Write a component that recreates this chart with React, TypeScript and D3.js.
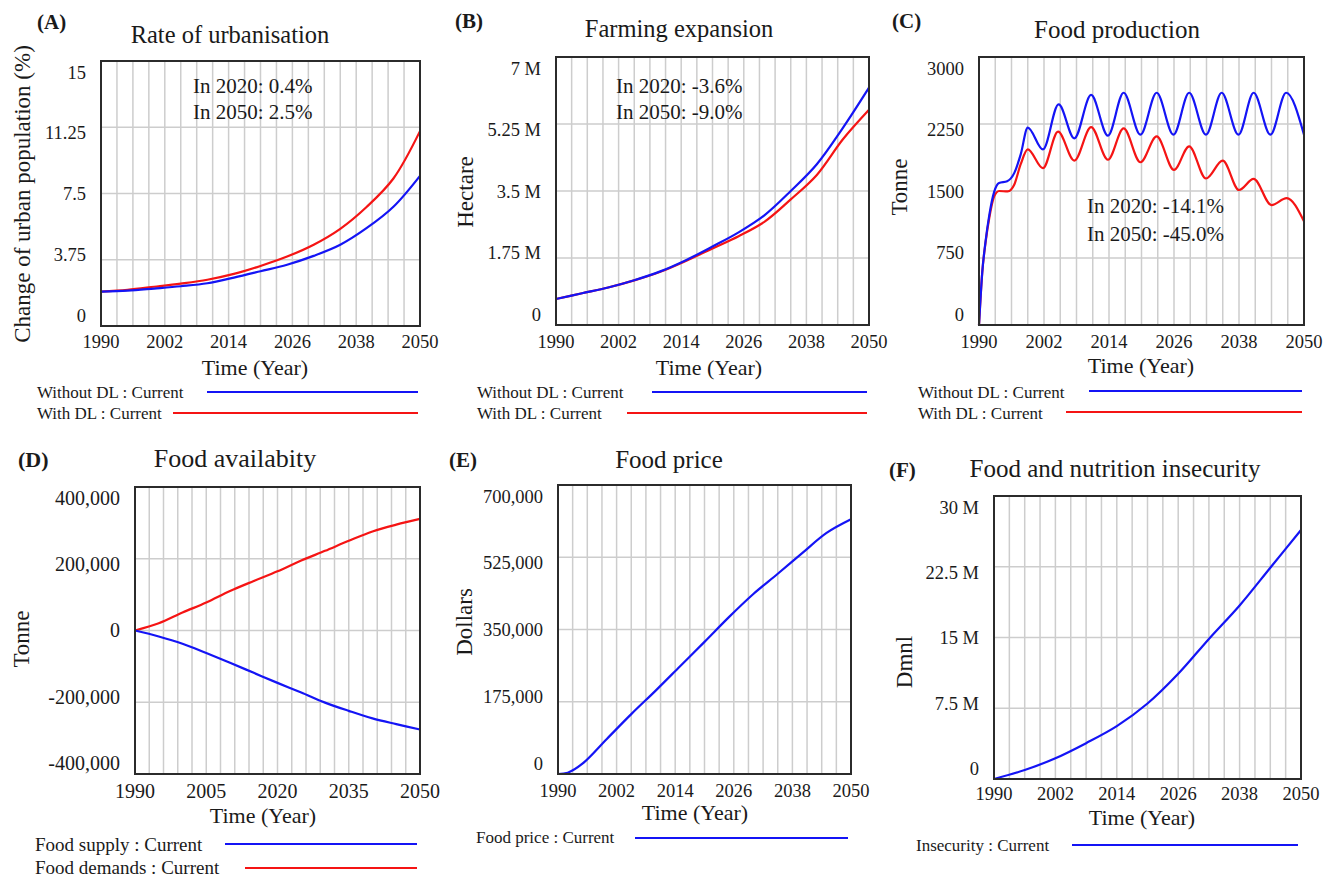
import React, { useEffect, useRef } from 'react';
import * as d3 from 'd3';

const W = 1333;
const H = 877;
const FONT = '"Liberation Serif", "Times New Roman", serif';
const BLUE = '#1414f5';
const RED = '#f51414';

// (A) Rate of urbanisation - change of urban population (%)
const urbanYears = [1990, 1995, 2000, 2005, 2010, 2015, 2020, 2025, 2030, 2035, 2040, 2045, 2050];
const urbanWithoutDL = [1.95, 2.0, 2.12, 2.25, 2.42, 2.74, 3.1, 3.47, 3.97, 4.6, 5.55, 6.75, 8.5];
const urbanWithDL = [1.95, 2.05, 2.22, 2.4, 2.62, 2.95, 3.4, 3.93, 4.6, 5.5, 6.75, 8.35, 11.03];
const urbanTicks = [0, 3.75, 7.5, 11.25, 15];
const urbanTickLabels = ['0', '3.75', '7.5', '11.25', '15'];

// (B) Farming expansion - hectare
const farmYears = [1990, 1995, 2000, 2005, 2010, 2015, 2020, 2025, 2030, 2035, 2040, 2045, 2050];
const farmWithoutDL = [680000, 830000, 980000, 1170000, 1400000, 1700000, 2050000, 2420000, 2870000, 3500000, 4200000, 5150000, 6200000];
const farmWithDL = [680000, 830000, 980000, 1165000, 1390000, 1680000, 2000000, 2320000, 2700000, 3280000, 3920000, 4850000, 5620000];
const farmTicks = [0, 1750000, 3500000, 5250000, 7000000];
const farmTickLabels = ['0', '1.75 M', '3.5 M', '5.25 M', '7 M'];

// (C) Food production - tonne (peaks and troughs)
const prodYearsWithout = [1990, 1990.6, 1991.2, 1991.9, 1992.8, 1993.7, 1995.2, 1996.5, 1997.7, 1999, 2001.8, 2004.7, 2007.6, 2010.7, 2013.8, 2016.7, 2019.8, 2022.8, 2025.9, 2028.8, 2031.9, 2034.8, 2037.9, 2040.7, 2043.8, 2046.7, 2050];
const prodWithoutDL = [0, 590, 930, 1230, 1490, 1590, 1610, 1700, 1910, 2210, 1965, 2470, 2090, 2575, 2120, 2600, 2130, 2600, 2130, 2600, 2130, 2600, 2130, 2600, 2130, 2600, 2130];
const prodYearsWith = [1990, 1990.6, 1991.2, 1991.9, 1992.8, 1993.7, 1995.3, 1996.5, 1997.7, 1999, 2001.8, 2004.6, 2007.6, 2010.7, 2013.8, 2016.7, 2019.8, 2022.8, 2026, 2028.8, 2031.9, 2035, 2038, 2040.7, 2044, 2046.8, 2050];
const prodWithDL = [0, 590, 920, 1200, 1440, 1500, 1495, 1570, 1800, 1965, 1755, 2165, 1840, 2215, 1850, 2200, 1822, 2111, 1736, 2000, 1640, 1840, 1511, 1635, 1342, 1420, 1160];
const prodTicks = [0, 750, 1500, 2250, 3000];
const prodTickLabels = ['0', '750', '1500', '2250', '3000'];

// (D) Food availability - tonne
const availYears = [1990, 1995, 2000, 2005, 2010, 2015, 2020, 2025, 2030, 2035, 2040, 2045, 2050];
const foodSupply = [0, -16600, -37000, -63000, -90000, -118000, -146000, -173000, -201000, -224000, -245000, -261000, -276000];
const foodDemands = [0, 20000, 50000, 78000, 110000, 138000, 165000, 195000, 222000, 250000, 276000, 295000, 311000];
const availTicks = [-400000, -200000, 0, 200000, 400000];
const availTickLabels = ['-400,000', '-200,000', '0', '200,000', '400,000'];

// (E) Food price - dollars
const priceYears = [1990, 1992, 1995, 2000, 2005, 2010, 2015, 2020, 2025, 2030, 2035, 2040, 2045, 2050];
const foodPrice = [0, 3000, 25000, 85000, 145000, 202000, 261000, 320000, 380000, 436000, 485000, 535000, 584000, 617000];
const priceTicks = [0, 175000, 350000, 525000, 700000];
const priceTickLabels = ['0', '175,000', '350,000', '525,000', '700,000'];

// (F) Food and nutrition insecurity - Dmnl
const insecYears = [1990, 1996, 2002, 2008, 2014, 2020, 2026, 2032, 2038, 2044, 2050];
const insecurity = [0, 950000, 2200000, 3800000, 5600000, 8000000, 11150000, 14850000, 18400000, 22400000, 26400000];
const insecTicks = [0, 7500000, 15000000, 22500000, 30000000];
const insecTickLabels = ['0', '7.5 M', '15 M', '22.5 M', '30 M'];

const yearTicks = [1990, 2002, 2014, 2026, 2038, 2050];
const yearTicksD = [1990, 2005, 2020, 2035, 2050];

const smooth = d3.curveCatmullRom.alpha(0.5);

const panels = [
  {
    letter: '(A)', letterPos: [37, 29], title: 'Rate of urbanisation', titlePos: [230, 43],
    plot: [101, 61, 420, 326], yTicks: urbanTicks, yLabels: urbanTickLabels, xTicks: yearTicks,
    yTitle: 'Change of urban population (%)', yTitlePos: [30, 194], xTitlePos: [255, 375], xTickY: 348,
    fs: { letter: 21, title: 24.5, axis: 23, tick: 18.5, legend: 17 },
    notes: { x: 193, y: [93, 119], lines: ['In 2020: 0.4%', 'In 2050: 2.5%'] },
    curve: smooth,
    series: [
      { years: urbanYears, values: urbanWithDL, color: RED },
      { years: urbanYears, values: urbanWithoutDL, color: BLUE },
    ],
    legend: [
      { label: 'Without DL : Current', color: BLUE, tx: 37, ty: 398, lx: [207, 418], ly: 392 },
      { label: 'With DL : Current', color: RED, tx: 37, ty: 419, lx: [173, 418], ly: 413 },
    ],
  },
  {
    letter: '(B)', letterPos: [455, 28], title: 'Farming expansion', titlePos: [679, 37],
    plot: [556, 57, 869, 325], yTicks: farmTicks, yLabels: farmTickLabels, xTicks: yearTicks,
    yTitle: 'Hectare', yTitlePos: [473, 192], xTitlePos: [709, 375], xTickY: 348,
    fs: { letter: 21, title: 24.5, axis: 23, tick: 18.5, legend: 17 },
    notes: { x: 616, y: [93, 119], lines: ['In 2020: -3.6%', 'In 2050: -9.0%'] },
    curve: smooth,
    series: [
      { years: farmYears, values: farmWithDL, color: RED },
      { years: farmYears, values: farmWithoutDL, color: BLUE },
    ],
    legend: [
      { label: 'Without DL : Current', color: BLUE, tx: 477, ty: 398, lx: [652, 867], ly: 392 },
      { label: 'With DL : Current', color: RED, tx: 477, ty: 419, lx: [627, 867], ly: 413 },
    ],
  },
  {
    letter: '(C)', letterPos: [892, 28], title: 'Food production', titlePos: [1117, 38],
    plot: [979, 57, 1304, 325], yTicks: prodTicks, yLabels: prodTickLabels, xTicks: yearTicks,
    yTitle: 'Tonne', yTitlePos: [907, 187], xTitlePos: [1141, 373], xTickY: 348,
    fs: { letter: 21, title: 25, axis: 23, tick: 18.5, legend: 17 },
    notes: { x: 1087, y: [213, 241], lines: ['In 2020: -14.1%', 'In 2050: -45.0%'] },
    curve: d3.curveMonotoneX,
    series: [
      { years: prodYearsWith, values: prodWithDL, color: RED },
      { years: prodYearsWithout, values: prodWithoutDL, color: BLUE },
    ],
    legend: [
      { label: 'Without DL : Current', color: BLUE, tx: 918, ty: 398, lx: [1089, 1302], ly: 391 },
      { label: 'With DL : Current', color: RED, tx: 918, ty: 419, lx: [1066, 1302], ly: 412 },
    ],
  },
  {
    letter: '(D)', letterPos: [18, 467], title: 'Food availabity', titlePos: [235, 467],
    plot: [135, 487, 420, 774], yTicks: availTicks, yLabels: availTickLabels, xTicks: yearTicksD,
    yTitle: 'Tonne', yTitlePos: [29, 639], xTitlePos: [263, 823], xTickY: 798,
    fs: { letter: 22, title: 26, axis: 23, tick: 20, legend: 19 },
    notes: null,
    curve: smooth,
    series: [
      { years: availYears, values: foodDemands, color: RED },
      { years: availYears, values: foodSupply, color: BLUE },
    ],
    legend: [
      { label: 'Food supply : Current', color: BLUE, tx: 35, ty: 851, lx: [225, 417], ly: 844 },
      { label: 'Food demands : Current', color: RED, tx: 35, ty: 874, lx: [245, 417], ly: 868 },
    ],
  },
  {
    letter: '(E)', letterPos: [449, 467], title: 'Food price', titlePos: [669, 468],
    plot: [558, 485, 851, 774], yTicks: priceTicks, yLabels: priceTickLabels, xTicks: yearTicks,
    yTitle: 'Dollars', yTitlePos: [472, 622], xTitlePos: [695, 820], xTickY: 797,
    fs: { letter: 21, title: 25, axis: 23, tick: 18.5, legend: 17 },
    notes: null,
    curve: smooth,
    series: [{ years: priceYears, values: foodPrice, color: BLUE }],
    legend: [{ label: 'Food price : Current', color: BLUE, tx: 476, ty: 843, lx: [635, 848], ly: 838 }],
  },
  {
    letter: '(F)', letterPos: [889, 477], title: 'Food and nutrition insecurity', titlePos: [1115, 477],
    plot: [994, 496, 1301, 779], yTicks: insecTicks, yLabels: insecTickLabels, xTicks: yearTicks,
    yTitle: 'Dmnl', yTitlePos: [912, 662], xTitlePos: [1142, 825], xTickY: 800,
    fs: { letter: 21, title: 25, axis: 23, tick: 18.5, legend: 17 },
    notes: null,
    curve: smooth,
    series: [{ years: insecYears, values: insecurity, color: BLUE }],
    legend: [{ label: 'Insecurity : Current', color: BLUE, tx: 916, ty: 851, lx: [1072, 1298], ly: 845 }],
  },
];

type Panel = typeof panels[number];

function drawPanel(svg: d3.Selection<SVGSVGElement, unknown, null, undefined>, p: Panel) {
  const [x0, y0, x1, y1] = p.plot;
  const yMin = p.yTicks[0];
  const yMax = p.yTicks[p.yTicks.length - 1];
  const x = d3.scaleLinear().domain([1990, 2050]).range([x0, x1]);
  const y = d3.scaleLinear().domain([yMin, yMax]).range([y1, y0]);
  // Vensim squeezes the value labels inside the frame
  const yLab = d3.scaleLinear().domain([yMin, yMax]).range([y1 - 4, y0 + 17.5]);

  const g = svg.append('g');

  // grid: every 3 years, 4 value bands
  g.append('g')
    .selectAll('line')
    .data(d3.range(1993, 2050, 3))
    .join('line')
    .attr('x1', d => x(d)).attr('x2', d => x(d))
    .attr('y1', y0).attr('y2', y1)
    .attr('stroke', '#cdcdcd').attr('stroke-width', 1.5);

  g.append('g')
    .selectAll('line')
    .data(p.yTicks.slice(1, -1))
    .join('line')
    .attr('x1', x0).attr('x2', x1)
    .attr('y1', d => y(d)).attr('y2', d => y(d))
    .attr('stroke', '#cdcdcd').attr('stroke-width', 1.5);

  const line = d3.line<[number, number]>()
    .x(d => x(d[0]))
    .y(d => y(d[1]))
    .curve(p.curve);

  p.series.forEach(s => {
    g.append('path')
      .datum(d3.zip(s.years, s.values) as [number, number][])
      .attr('d', line)
      .attr('fill', 'none')
      .attr('stroke', s.color)
      .attr('stroke-width', 2.2)
      .attr('stroke-linejoin', 'round');
  });

  g.append('rect')
    .attr('x', x0).attr('y', y0)
    .attr('width', x1 - x0).attr('height', y1 - y0)
    .attr('fill', 'none').attr('stroke', '#2b2b2b').attr('stroke-width', 2);

  const text = g.append('g').attr('font-family', FONT).attr('fill', '#1a1a1a');

  // value labels
  text.append('g')
    .selectAll('text')
    .data(p.yTicks)
    .join('text')
    .attr('x', x0 - 15)
    .attr('y', d => yLab(d))
    .attr('text-anchor', 'end')
    .attr('font-size', p.fs.tick)
    .text((d, i) => p.yLabels[i]);

  // year labels
  text.append('g')
    .selectAll('text')
    .data(p.xTicks)
    .join('text')
    .attr('x', d => x(d))
    .attr('y', p.xTickY)
    .attr('text-anchor', 'middle')
    .attr('font-size', p.fs.tick)
    .text(d => String(d));

  text.append('text')
    .attr('x', p.xTitlePos[0]).attr('y', p.xTitlePos[1])
    .attr('text-anchor', 'middle')
    .attr('font-size', 22)
    .text('Time (Year)');

  text.append('text')
    .attr('transform', `translate(${p.yTitlePos[0]},${p.yTitlePos[1]}) rotate(-90)`)
    .attr('text-anchor', 'middle')
    .attr('font-size', p.fs.axis)
    .text(p.yTitle);

  text.append('text')
    .attr('x', p.titlePos[0]).attr('y', p.titlePos[1])
    .attr('text-anchor', 'middle')
    .attr('font-size', p.fs.title)
    .text(p.title);

  text.append('text')
    .attr('x', p.letterPos[0]).attr('y', p.letterPos[1])
    .attr('font-size', p.fs.letter)
    .attr('font-weight', 'bold')
    .text(p.letter);

  if (p.notes) {
    const n = p.notes;
    n.lines.forEach((t, i) => {
      text.append('text')
        .attr('x', n.x).attr('y', n.y[i])
        .attr('font-size', 21)
        .text(t);
    });
  }

  p.legend.forEach(l => {
    text.append('text')
      .attr('x', l.tx).attr('y', l.ty)
      .attr('font-size', p.fs.legend)
      .text(l.label);
    g.append('line')
      .attr('x1', l.lx[0]).attr('x2', l.lx[1])
      .attr('y1', l.ly).attr('y2', l.ly)
      .attr('stroke', l.color).attr('stroke-width', 2);
  });
}

export default function App() {
  const svgRef = useRef<SVGSVGElement>(null);

  useEffect(() => {
    if (!svgRef.current) return;
    const svg = d3.select(svgRef.current);
    svg.selectAll('*').remove();
    svg.append('rect').attr('width', W).attr('height', H).attr('fill', '#fff');
    panels.forEach(p => drawPanel(svg, p));
  }, []);

  return (
    <svg
      ref={svgRef}
      width={W}
      height={H}
      style={{ position: 'absolute', left: 0, top: 0, display: 'block' }}
    />
  );
}
